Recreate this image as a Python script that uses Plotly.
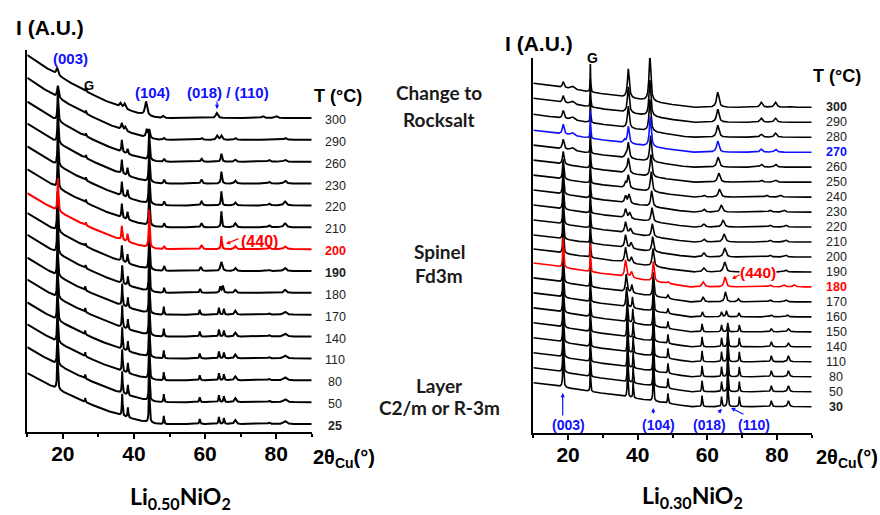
import numpy as np
import plotly.graph_objects as go

W, H = 880, 515

# ---------------- Li0.50NiO2 (left panel) ----------------
L_TEMPS = ["300", "290", "260", "230", "220", "210", "200", "190",
           "180", "170", "140", "110", "80", "50", "25"]
L_COLORS = {"200": "#ff0000"}
L_BOLD = ["200", "190", "25"]
L_BG = [63, 62, 60, 60, 59, 58, 56, 58, 58, 57, 57, 56, 56, 55, 51]
# peaks per pattern: [2theta, height, half-width]
_LAY_L = [[26.3, 4, .08], [36.7, 22, .12], [38.3, 10, .12], [44.3, 45, .12],
          [48.4, 8, .12], [58.5, 5, .15], [63.9, 7, .15], [65.3, 6, .15],
          [68.5, 4, .3], [78.0, 1.5, .3], [82.5, 3, .5]]
L_PEAKS = [
    [[18.4, 7, .3], [26.5, 3, .1], [36.2, 4, .3], [37.4, 5, .3], [43.4, 14, .35],
     [48.2, 2, .3], [63.3, 5, .35], [76.2, 2, .4], [80.0, 2, .4]],
    [[18.6, 12, .25], [26.5, 3, .1], [36.6, 6, .25], [37.6, 4, .25], [43.6, 8, .25],
     [44.3, 8, .2], [48.4, 2, .3], [59.0, 2, .3], [63.4, 4, .3], [64.6, 4, .3],
     [68.5, 2, .3], [82.5, 2, .4]],
    [[18.6, 30, .15], [26.5, 3, .1], [36.6, 12, .15], [38.2, 5, .15], [44.3, 30, .15],
     [48.5, 3, .2], [59.0, 3, .25], [64.6, 8, .2], [68.5, 2, .3], [78.0, 2, .3], [82.5, 2, .4]],
    [[18.6, 35, .15], [26.5, 3, .1], [36.6, 14, .15], [38.2, 8, .15], [44.3, 35, .15],
     [48.5, 4, .2], [59.0, 4, .25], [64.6, 12, .18], [68.5, 3, .3], [78.0, 2, .3], [82.5, 3, .4]],
    [[18.6, 35, .15], [26.5, 3, .1], [36.6, 14, .15], [38.2, 8, .15], [44.3, 38, .15],
     [48.5, 4, .2], [59.0, 4, .25], [64.6, 14, .16], [68.5, 3, .3], [78.0, 2, .3], [82.5, 4, .4]],
    [[18.6, 35, .15], [26.5, 3, .1], [36.6, 14, .15], [38.2, 8, .15], [44.3, 38, .15],
     [48.5, 4, .2], [59.0, 4, .25], [64.6, 16, .15], [68.5, 4, .3], [78.0, 2, .3], [82.5, 4, .4]],
    [[18.6, 33, .15], [26.5, 3, .1], [36.6, 14, .15], [38.2, 8, .15], [44.3, 38, .15],
     [48.5, 3, .2], [59.0, 4, .25], [64.6, 13, .15], [68.5, 3, .3], [78.0, 2, .3], [82.5, 3, .4]],
    [[18.5, 40, .15], [26.4, 3, .1], [36.6, 16, .15], [38.2, 9, .15], [44.3, 40, .15],
     [48.5, 5, .2], [58.8, 4, .25], [64.6, 9, .3], [68.5, 3, .3], [78.0, 1, .3], [82.5, 3, .4]],
    [[18.5, 40, .15], [26.4, 3, .1], [36.7, 18, .13], [38.3, 9, .13], [44.3, 42, .13],
     [48.5, 5, .15], [58.6, 4, .2], [64.3, 6, .2], [65.0, 7, .2], [68.5, 3, .3], [82.5, 3, .4]],
    [[18.5, 40, .13]] + _LAY_L,
    [[18.5, 40, .13]] + _LAY_L,
    [[18.5, 40, .13]] + _LAY_L,
    [[18.5, 40, .13]] + _LAY_L,
    [[18.5, 40, .13]] + _LAY_L,
    [[18.5, 40, .13]] + _LAY_L,
]

# ---------------- Li0.30NiO2 (right panel) ----------------
R_TEMPS = ["300", "290", "280", "270", "260", "250", "240", "230", "220", "210", "200",
           "190", "180", "170", "160", "150", "140", "110", "80", "50", "30"]
R_COLORS = {"270": "#1010ff", "180": "#ff0000"}
R_BOLD = ["300", "270", "180", "30"]
R_BG = [24, 24, 23, 22, 22, 22, 22, 22, 22, 22, 22, 23, 24, 24, 24, 24, 24, 24, 24, 24, 24]
_LAY_R = [[26.4, 28, .08], [37.1, 31, .12], [38.7, 17, .1], [44.5, 34, .12],
          [48.7, 10, .12], [58.5, 11, .13], [64.1, 10, .13], [65.9, 30, .12],
          [69.2, 10, .13], [78.4, 6, .2], [83.3, 6, .25]]
R_PEAKS = [
    [[18.6, 6, .3], [21.2, 3, .6], [26.4, 28, .08], [37.3, 29, .3], [43.5, 46, .3],
     [63.0, 15, .4], [75.5, 5, .4], [79.6, 5, .4], [84.0, 1, .5]],
    [[18.6, 7, .3], [21.2, 3, .6], [26.4, 28, .08], [37.3, 26, .3], [43.5, 36, .3],
     [63.0, 13, .4], [75.5, 4, .4], [79.6, 4, .4]],
    [[18.6, 8, .3], [21.2, 3, .6], [26.4, 28, .08], [37.3, 22, .3], [43.5, 32, .3],
     [63.0, 12, .4], [75.5, 3, .4], [79.6, 4, .4]],
    [[18.6, 10, .3], [21.2, 3, .6], [26.4, 28, .08], [36.2, 3, .3], [37.3, 17, .3],
     [43.6, 30, .3], [63.0, 11, .4], [75.5, 3, .4], [79.6, 3, .4]],
    [[18.6, 10, .3], [21.2, 3, .6], [26.4, 28, .08], [36.5, 3, .3], [37.3, 16, .3],
     [43.7, 26, .3], [63.1, 10, .4], [75.5, 3, .4], [79.6, 3, .4]],
    [[18.6, 13, .25], [26.4, 28, .08], [36.5, 4, .3], [37.3, 15, .3], [43.8, 22, .3],
     [63.3, 9, .4], [75.5, 2, .4], [79.6, 2, .4]],
    [[18.6, 20, .2], [26.4, 28, .08], [36.5, 5, .3], [37.3, 13, .3], [43.9, 20, .3],
     [59.0, 2, .4], [63.5, 8, .4], [77.0, 2, .4], [81.0, 2, .4]],
    [[18.6, 25, .18], [26.4, 28, .08], [36.5, 7, .3], [37.5, 9, .3], [44.0, 16, .3],
     [59.0, 3, .4], [64.0, 7, .4], [78.0, 2, .4], [82.0, 2, .4]],
    [[18.6, 30, .15], [26.4, 28, .08], [36.5, 9, .3], [37.7, 6, .3], [44.1, 14, .3],
     [59.0, 3, .4], [64.5, 7, .4], [78.0, 2, .4], [82.5, 2, .4]],
    [[18.6, 30, .15], [26.4, 28, .08], [36.5, 11, .3], [37.9, 5, .3], [44.2, 13, .3],
     [59.0, 3, .4], [64.8, 8, .4], [78.0, 2, .4], [82.5, 2, .4]],
    [[18.6, 30, .15], [26.4, 28, .08], [36.5, 13, .3], [38.1, 6, .3], [44.3, 15, .3],
     [59.0, 4, .4], [65.0, 9, .4], [78.0, 2, .4], [82.5, 2, .4]],
    [[18.6, 30, .15], [26.4, 28, .08], [36.5, 15, .3], [38.2, 6, .3], [44.4, 18, .3],
     [59.0, 4, .4], [65.0, 10, .4], [78.0, 2, .4], [82.5, 2, .4]],
    [[18.6, 30, .15], [26.4, 28, .08], [36.5, 17, .3], [38.2, 6, .3], [44.5, 20, .25],
     [48.7, 2, .3], [58.8, 5, .4], [65.1, 10, .35], [78.0, 2, .4], [82.0, 2, .4], [85.0, 2, .4]],
    [[18.6, 30, .15], [26.4, 28, .08], [36.7, 18, .25], [38.3, 8, .2], [44.5, 24, .2],
     [48.7, 4, .2], [58.8, 5, .3], [65.2, 10, .3], [68.9, 3, .3], [78.0, 2, .4], [82.5, 2, .4]],
    [[18.6, 30, .15], [26.4, 28, .08], [36.8, 20, .2], [38.5, 11, .15], [44.5, 27, .15],
     [48.7, 5, .15], [58.6, 5, .2], [64.1, 5, .2], [65.5, 6, .2], [69.1, 4, .2],
     [78.4, 2, .3], [83.0, 2, .3]],
    [[18.6, 30, .15], [26.4, 28, .08], [37.0, 24, .15], [38.6, 14, .12], [44.5, 30, .13],
     [48.7, 7, .13], [58.5, 8, .15], [64.1, 7, .15], [65.9, 9, .15], [69.2, 7, .15],
     [78.4, 3, .25], [83.3, 3, .3]],
    [[18.6, 30, .15], [26.4, 28, .08], [37.0, 28, .13], [38.7, 16, .12], [44.5, 32, .12],
     [48.7, 9, .12], [58.5, 10, .13], [64.1, 9, .13], [65.9, 18, .13], [69.2, 9, .13],
     [78.4, 5, .2], [83.3, 4, .25]],
    [[18.6, 30, .15]] + _LAY_R,
    [[18.6, 30, .15]] + _LAY_R,
    [[18.6, 30, .15]] + _LAY_R,
    [[18.6, 32, .15]] + _LAY_R,
]

TICK_VALS = [20, 40, 60, 80]

# ---------------- layout geometry (pixels) ----------------
L_X0, L_X1, L_Y0, L_Y1 = 27.3, 311.7, 50, 432
R_X0, R_X1, R_Y0, R_Y1 = 533.3, 811.7, 58, 433
L_TOP_BASE, L_STEP = 118.0, 21.86
R_TOP_BASE, R_STEP = 107.3, 14.97

x = np.arange(10.0, 90.0001, 0.02)


def pattern(peaks, amp, width, power):
    t = np.clip(1 - (x - 10) / width, 0, None)
    y = amp * t ** power
    for c, h, w in peaks:
        y = y + h / (1 + ((x - c) / w) ** 2)
    return y


fig = go.Figure()


def add_panel(temps, colors, bgs, peaks, xa, ya, y1px, top_base, step, bgw, bgp, lw):
    order = [i for i, t in enumerate(temps) if t not in colors] + \
            [i for i, t in enumerate(temps) if t in colors]
    for i in order:
        t = temps[i]
        base = y1px - (top_base + step * i)
        yy = base + pattern(peaks[i], bgs[i], bgw, bgp)
        fig.add_trace(go.Scatter(x=x, y=yy, mode="lines", xaxis=xa, yaxis=ya,
                                 line=dict(color=colors.get(t, "#000000"), width=lw),
                                 hoverinfo="skip", showlegend=False, name=t))


add_panel(L_TEMPS, L_COLORS, L_BG, L_PEAKS, "x", "y", L_Y1, L_TOP_BASE, L_STEP, 38, 1.5, 2.0)
add_panel(R_TEMPS, R_COLORS, R_BG, R_PEAKS, "x2", "y2", R_Y1, R_TOP_BASE, R_STEP, 45, 1.0, 1.6)

axis_common = dict(showline=True, linecolor="black", linewidth=2, ticks="outside",
                   ticklen=5, tickwidth=2, tickcolor="black", showgrid=False, zeroline=False,
                   range=[10, 90], tickvals=TICK_VALS, ticklabelstandoff=-3,
                   tickfont=dict(family="Liberation Sans", size=21, color="black", weight="bold"),
                   minor=dict(tickvals=[10, 30, 50, 70, 90], ticks="outside", ticklen=3,
                              tickwidth=1.5, tickcolor="black"))
yaxis_common = dict(showline=True, linecolor="black", linewidth=2, showticklabels=False,
                    ticks="", showgrid=False, zeroline=False)

fig.update_layout(
    width=W, height=H, margin=dict(l=0, r=0, t=0, b=0),
    paper_bgcolor="white", plot_bgcolor="white", showlegend=False,
    xaxis=dict(domain=[L_X0 / W, L_X1 / W], anchor="y", **axis_common),
    yaxis=dict(domain=[1 - L_Y1 / H, 1 - L_Y0 / H], anchor="x", range=[0, L_Y1 - L_Y0], **yaxis_common),
    xaxis2=dict(domain=[R_X0 / W, R_X1 / W], anchor="y2", **axis_common),
    yaxis2=dict(domain=[1 - R_Y1 / H, 1 - R_Y0 / H], anchor="x2", range=[0, R_Y1 - R_Y0], **yaxis_common),
)

ARIAL = "Liberation Sans"
CAL = "Lato"
anns = []


def txt(px, py, text, size, color="black", bold=True, family=ARIAL, xanchor="center", **kw):
    anns.append(dict(x=px / W, y=1 - py / H, xref="paper", yref="paper", text=text,
                     showarrow=False, xanchor=xanchor, yanchor="middle",
                     font=dict(family=family, size=size, color=color,
                               weight="bold" if bold else "normal"), **kw))


def arrow(hx, hy, tx, ty, color, size=0.8, width=1.2):
    anns.append(dict(x=hx / W, y=1 - hy / H, xref="paper", yref="paper", text="",
                     showarrow=True, ax=tx - hx, ay=ty - hy, axref="pixel", ayref="pixel",
                     arrowhead=2, arrowsize=size, arrowwidth=width, arrowcolor=color))


BLUE = "#1010ff"
RED = "#ff0000"

# temperature labels
for i, t in enumerate(L_TEMPS):
    txt(335, L_TOP_BASE + L_STEP * i + 2, t, 12.5, color=L_COLORS.get(t, "#222222"),
        bold=t in L_BOLD)
for i, t in enumerate(R_TEMPS):
    txt(836, R_TOP_BASE + R_STEP * i, t, 12.5, color=R_COLORS.get(t, "#222222"),
        bold=t in R_BOLD)

# left panel texts
txt(50, 27, "I (A.U.)", 21)
txt(70, 59, "(003)", 15, color=BLUE)
txt(89, 85, "G", 13)
txt(152, 93, "(104)", 15, color=BLUE)
txt(228, 93, "(018) / (110)", 15, color=BLUE)
arrow(217, 109, 217, 100, BLUE, size=0.7)
txt(338, 96, "T (°C)", 18)
txt(259, 242, "(440)", 16, color=RED)
arrow(226, 244, 240, 238, RED, size=0.7)
txt(344, 458, "2θ<sub>Cu</sub>(°)", 20)
txt(180, 497, "Li<sub>0.50</sub>NiO<sub>2</sub>", 23, family=CAL)

# middle texts
MID = "#1a1a1a"
txt(439, 92, "Change to", 19, family=CAL, color=MID)
txt(439, 119, "Rocksalt", 19, family=CAL, color=MID)
txt(439, 251, "Spinel", 19, family=CAL, color=MID)
txt(439, 275, "Fd3m", 19, family=CAL, color=MID)
txt(439, 385, "Layer", 19, family=CAL, color=MID)
txt(439, 407, "C2/m or R-3m", 19, family=CAL, color=MID)

# right panel texts
txt(539, 43, "I (A.U.)", 21)
txt(592, 58, "G", 14)
txt(837, 76, "T (°C)", 18)
txt(758, 272, "(440)", 15.5, color=RED, bgcolor="white", borderpad=0)
arrow(732, 279, 741, 274, RED, size=0.7)
txt(568, 425, "(003)", 14, color=BLUE)
arrow(562.7, 393, 562.7, 417, BLUE, size=0.7)
txt(658, 425, "(104)", 14, color=BLUE)
arrow(653.3, 408, 653.3, 415, BLUE, size=0.7)
txt(709, 425, "(018)", 14, color=BLUE)
arrow(722, 409, 717, 414, BLUE, size=0.7)
txt(754, 425, "(110)", 14, color=BLUE)
arrow(731, 408, 745, 415, BLUE, size=0.7)
txt(847, 458, "2θ<sub>Cu</sub>(°)", 20)
txt(692, 496, "Li<sub>0.30</sub>NiO<sub>2</sub>", 23, family=CAL)

fig.update_layout(annotations=anns)
fig.write_html("out.html", config={"displayModeBar": False},
               post_script="document.body.style.margin='0px';")
